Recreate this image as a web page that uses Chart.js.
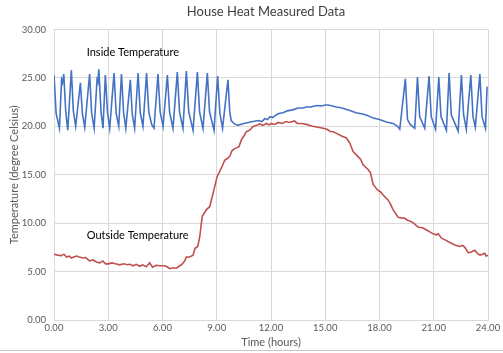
<!DOCTYPE html>
<html>
<head>
<meta charset="utf-8">
<script src="https://cdn.jsdelivr.net/npm/chart.js@4/dist/chart.umd.min.js"></script>
<style>
  body { margin: 0; background: #fff; }
</style>
</head>
<body>
<canvas id="chart" width="503" height="353"></canvas>
<script>
// readings: hours and degrees Celsius
const insideHours = [
  0.00, 0.12, 0.30, 0.42, 0.47, 0.54, 0.65, 0.76, 0.96, 1.07, 1.20, 1.46, 1.57, 1.70,
  1.97, 2.08, 2.22, 2.38, 2.42, 2.48, 2.60, 2.71, 2.84, 2.96, 3.08, 3.32, 3.44, 3.58,
  3.73, 3.85, 3.97, 4.22, 4.33, 4.46, 4.65, 4.77, 4.92, 5.12, 5.24, 5.40, 5.53, 5.75,
  5.87, 6.03, 6.27, 6.39, 6.58, 6.82, 6.94, 7.13, 7.32, 7.45, 7.69, 7.93, 8.05, 8.24,
  8.48, 8.60, 8.85, 9.05, 9.17, 9.32, 9.62, 9.72, 9.80, 9.95, 10.15,
  10.50, 11.00, 11.30, 11.50, 11.65, 11.80, 11.95, 12.10, 12.30, 12.48, 12.67, 12.90,
  13.20, 13.50, 13.75, 13.96, 14.20, 14.40, 14.60, 14.80, 15.00, 15.15, 15.40, 15.60,
  15.80, 16.10, 16.40, 16.70, 17.00, 17.30, 17.65, 18.00, 18.38, 18.75, 19.00, 19.12,
  19.43, 19.55, 19.70, 19.95, 20.10, 20.22, 20.50, 20.74, 20.86, 21.10, 21.28, 21.40,
  21.70, 21.85, 21.97, 22.35, 22.53, 22.65, 22.80, 23.05, 23.17, 23.30, 23.55, 23.67,
  23.86, 23.95
];
const insideTemp = [
  25.3, 21.3, 19.8, 24.8, 24.5, 25.4, 21.5, 19.6, 25.8, 21.6, 20.0, 24.5, 21.3, 19.9,
  25.4, 21.4, 19.8, 24.8, 24.6, 25.9, 21.5, 19.8, 25.3, 21.4, 19.8, 25.5, 21.3, 20.0,
  25.4, 21.4, 19.8, 24.8, 21.2, 19.8, 25.5, 21.4, 20.0, 25.5, 21.5, 20.2, 19.8, 25.4,
  21.5, 20.0, 25.3, 21.5, 19.8, 25.6, 21.5, 19.8, 25.7, 21.5, 19.6, 25.6, 21.5, 19.8,
  25.5, 21.5, 19.6, 25.2, 21.4, 19.8, 24.8, 21.5, 20.6, 20.3, 20.1,
  20.3, 20.5, 20.6, 20.5, 20.8, 20.7, 21.0, 20.9, 21.2, 21.35, 21.4, 21.6,
  21.7, 21.9, 21.9, 22.0, 22.0, 22.1, 22.15, 22.1, 22.2, 22.2, 22.1, 22.0,
  21.95, 21.8, 21.6, 21.4, 21.3, 21.15, 20.85, 20.7, 20.45, 20.3, 20.0, 19.7,
  24.9, 20.7, 20.2, 19.8, 25.1, 21.0, 19.8, 25.2, 21.0, 19.7, 25.1, 21.0,
  19.6, 25.5, 21.2, 19.5, 25.3, 21.2, 19.7, 25.3, 21.0, 19.9, 25.4, 21.0,
  19.8, 24.1
];

const outsideHours = [
  0.00, 0.20, 0.41, 0.55, 0.70, 0.85, 0.96, 1.10, 1.24, 1.40, 1.60, 1.75, 1.97, 2.15,
  2.35, 2.53, 2.70, 2.85, 2.99, 3.20, 3.40, 3.63, 3.85, 4.05, 4.20, 4.37, 4.55, 4.75,
  4.90, 5.10, 5.29, 5.45, 5.65, 5.85, 6.12, 6.25, 6.40, 6.60, 6.77, 6.95, 7.05, 7.23,
  7.32, 7.50, 7.69, 7.80, 7.95, 8.06, 8.15, 8.20, 8.43, 8.61, 8.80, 9.02, 9.26, 9.44,
  9.60, 9.72, 9.85, 10.00, 10.23, 10.36, 10.50, 10.64, 10.82, 11.00, 11.20, 11.38, 11.55,
  11.75, 11.90, 12.02, 12.20, 12.40, 12.60, 12.85, 13.00, 13.30, 13.45, 13.70, 13.96,
  14.30, 14.60, 14.88, 15.10, 15.25, 15.43, 15.60, 15.90, 16.17, 16.35, 16.54, 16.80,
  16.95, 17.10, 17.37, 17.50, 17.65, 17.90, 18.05, 18.20, 18.47, 18.60, 18.75, 19.03,
  19.20, 19.40, 19.55, 19.77, 19.95, 20.13, 20.41, 20.60, 20.78, 20.96, 21.15, 21.25,
  21.43, 21.60, 21.79, 21.95, 22.16, 22.44, 22.60, 22.72, 22.90, 23.05, 23.27, 23.40,
  23.55, 23.70, 23.82, 23.90, 24.00
];
const outsideTemp = [
  6.8, 6.7, 6.65, 6.8, 6.5, 6.6, 6.4, 6.5, 6.6, 6.5, 6.4, 6.45, 6.1, 6.2,
  6.0, 5.9, 6.1, 5.8, 5.8, 5.9, 5.8, 5.7, 5.8, 5.7, 5.75, 5.6, 5.75, 5.55,
  5.7, 5.5, 5.9, 5.45, 5.65, 5.6, 5.6, 5.5, 5.3, 5.4, 5.35, 5.6, 5.7, 6.1,
  6.5, 6.5, 6.7, 7.4, 7.6, 8.6, 10.0, 10.7, 11.4, 11.7, 13.1, 14.8, 15.7, 16.5,
  16.7, 16.9, 17.5, 17.7, 17.9, 18.6, 19.0, 19.45, 19.6, 19.97, 20.1, 20.25, 20.1,
  20.3, 20.15, 20.3, 20.2, 20.4, 20.3, 20.5, 20.4, 20.55, 20.3, 20.3, 20.2,
  20.0, 19.9, 19.8, 19.7, 19.5, 19.45, 19.3, 19.0, 18.8, 18.3, 17.4, 16.9,
  16.6, 16.0, 15.55, 15.2, 14.0, 13.4, 13.25, 12.9, 12.4, 12.0, 11.4, 10.6,
  10.55, 10.5, 10.3, 10.15, 9.9, 9.6, 9.5, 9.3, 9.1, 8.9, 8.8, 8.9,
  8.45, 8.3, 8.1, 7.95, 7.75, 7.6, 7.7, 7.5, 6.95, 7.0, 7.2, 6.9,
  6.7, 6.8, 6.9, 6.6, 6.7
];

const hourTicks = [0, 3, 6, 9, 12, 15, 18, 21, 24];
const tempTicks = [0, 5, 10, 15, 20, 25, 30];

const FONT = "Lato, 'Open Sans', sans-serif";
const GRID = "#d9d9d9";
const TEXT = "#595959";

const toPoints = (xs, ys) => xs.map((x, i) => ({ x, y: ys[i] }));

// title, series labels and the outer frame line
const decorations = {
  id: "decorations",
  afterDatasetsDraw(chart) {
    const { ctx, scales } = chart;
    ctx.save();
    ctx.fillStyle = "#000";
    ctx.font = "11px " + FONT;
    ctx.textBaseline = "middle";
    ctx.textAlign = "left";
    ctx.fillText("Inside Temperature", scales.x.getPixelForValue(1.81), scales.y.getPixelForValue(27.6));
    ctx.fillText("Outside Temperature", scales.x.getPixelForValue(1.81), scales.y.getPixelForValue(8.7));

    ctx.fillStyle = "#404040";
    ctx.font = "13px " + FONT;
    ctx.textAlign = "center";
    ctx.fillText("House Heat Measured Data", 266, 12);

    ctx.strokeStyle = "#c8c8c8";
    ctx.lineWidth = 1;
    ctx.beginPath();
    ctx.moveTo(0, 350.5);
    ctx.lineTo(503, 350.5);
    ctx.stroke();
    ctx.restore();
  },
};

new Chart(document.getElementById("chart"), {
  type: "line",
  data: {
    datasets: [
      {
        label: "Inside Temperature",
        data: toPoints(insideHours, insideTemp),
        borderColor: "#4472c4",
        borderWidth: 1.6,
        pointRadius: 0,
        tension: 0,
      },
      {
        label: "Outside Temperature",
        data: toPoints(outsideHours, outsideTemp),
        borderColor: "#c0504d",
        borderWidth: 1.6,
        pointRadius: 0,
        tension: 0,
      },
    ],
  },
  options: {
    responsive: false,
    animation: false,
    layout: { padding: { top: 29.5, right: 15, left: 0, bottom: 0 } },
    plugins: {
      legend: { display: false },
      title: { display: false },
      tooltip: { enabled: false },
    },
    scales: {
      x: {
        type: "linear",
        min: 0,
        max: 24,
        afterBuildTicks: (s) => { s.ticks = hourTicks.map((v) => ({ value: v })); },
        afterFit: (s) => { s.height = 33; },
        ticks: {
          padding: 2,
          color: TEXT,
          font: { family: FONT, size: 9.5 },
          callback: (v) => Number(v).toFixed(2),
        },
        grid: { color: GRID, drawTicks: false },
        border: { color: GRID },
        title: {
          display: true,
          text: "Time (hours)",
          color: TEXT,
          font: { family: FONT, size: 11 },
          padding: { top: 0, bottom: 4 },
        },
      },
      y: {
        min: 0,
        max: 30,
        afterBuildTicks: (s) => { s.ticks = tempTicks.map((v) => ({ value: v })); },
        afterFit: (s) => { s.width = 54; },
        ticks: {
          padding: 8,
          color: TEXT,
          font: { family: FONT, size: 9.5 },
          callback: (v) => Number(v).toFixed(2),
        },
        grid: { color: GRID, drawTicks: false },
        border: { display: false },
        title: {
          display: true,
          text: "Temperature (degree Celsius)",
          color: TEXT,
          font: { family: FONT, size: 11 },
          padding: { top: 8, bottom: 0 },
        },
      },
    },
  },
  plugins: [decorations],
});
</script>
</body>
</html>
